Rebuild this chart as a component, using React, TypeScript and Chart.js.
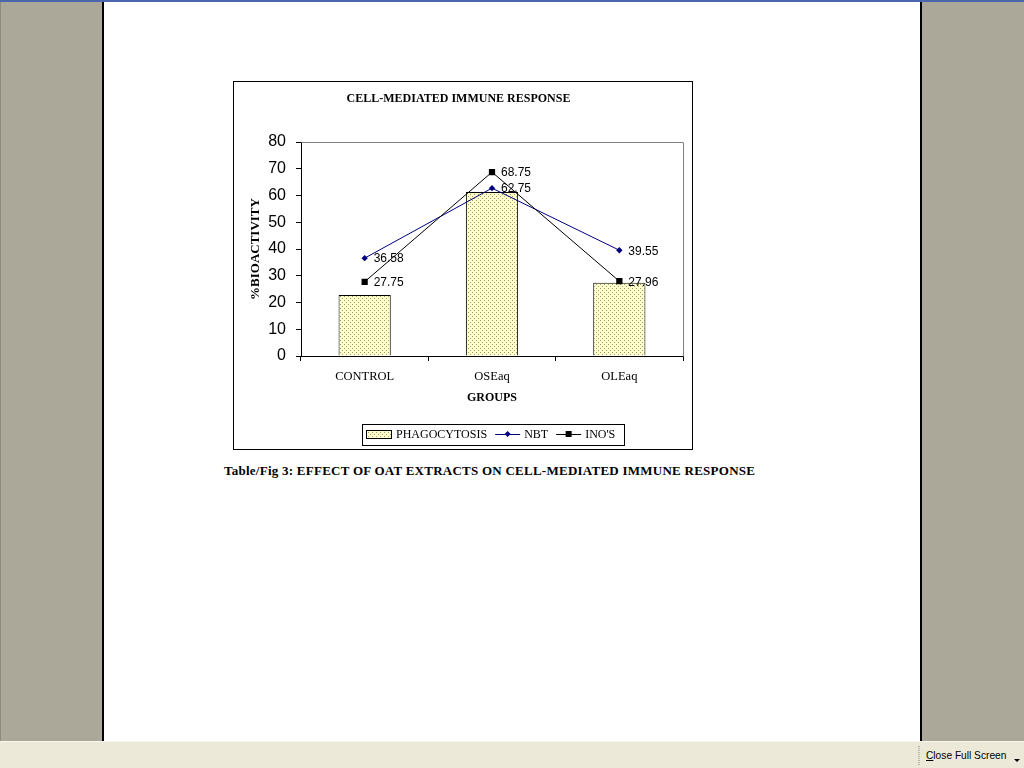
import React, { useEffect, useRef } from "react";
import { Chart, registerables } from "chart.js";

Chart.register(...registerables);

// ---- data ----
const categories = ["CONTROL", "OSEaq", "OLEaq"];
const seriesNames = ["PHAGOCYTOSIS", "NBT", "INO'S"];
const phagocytosis = [22.8, 61.3, 27.4];
const nbt = [36.58, 62.75, 39.55];
const inos = [27.75, 68.75, 27.96];
const yMin = 0;
const yMax = 80;
const yStep = 10;
const chartTitle = "CELL-MEDIATED IMMUNE RESPONSE";
const xTitle = "GROUPS";
const yTitle = "%BIOACTIVITY";
const caption = "Table/Fig 3: EFFECT OF OAT EXTRACTS ON CELL-MEDIATED IMMUNE RESPONSE";

const SERIF = "'Liberation Serif', 'Times New Roman', serif";
const SANS = "'Liberation Sans', Arial, sans-serif";

function makePattern(): CanvasPattern | string {
  const c = document.createElement("canvas");
  c.width = 4;
  c.height = 4;
  const g = c.getContext("2d");
  if (!g) return "#FFFFCC";
  g.fillStyle = "#FFFFCC";
  g.fillRect(0, 0, 4, 4);
  g.fillStyle = "#9c9c70";
  g.fillRect(0, 0, 1, 1);
  g.fillRect(2, 2, 1, 1);
  return g.createPattern(c, "repeat") || "#FFFFCC";
}

const plotFrame = {
  id: "plotFrame",
  beforeDatasetsDraw(chart: any) {
    const { ctx, chartArea } = chart;
    const { left, top, right, bottom } = chartArea;
    ctx.save();
    ctx.strokeStyle = "#808080";
    ctx.lineWidth = 1;
    ctx.beginPath();
    ctx.moveTo(Math.round(left) + 0.5, Math.round(top) + 0.5);
    ctx.lineTo(Math.round(right) + 0.5, Math.round(top) + 0.5);
    ctx.lineTo(Math.round(right) + 0.5, Math.round(bottom) + 0.5);
    ctx.stroke();
    ctx.restore();
  },
};

const pointLabels = {
  id: "pointLabels",
  afterDatasetsDraw(chart: any) {
    const { ctx } = chart;
    ctx.save();
    ctx.font = `12px ${SANS}`;
    ctx.fillStyle = "#000";
    ctx.textAlign = "left";
    ctx.textBaseline = "middle";
    chart.data.datasets.forEach((ds: any, di: number) => {
      if (ds.type !== "line") return;
      const meta = chart.getDatasetMeta(di);
      meta.data.forEach((pt: any, i: number) => {
        ctx.fillText(Number(ds.data[i]).toFixed(2), pt.x + 9, pt.y + 1);
      });
    });
    ctx.restore();
  },
};

const customLegend = {
  id: "customLegend",
  afterDraw(chart: any) {
    const { ctx } = chart;
    const ds = chart.data.datasets;
    const boxL = 128, boxT = 342, boxW = 262, boxH = 21;
    const cy = boxT + 10;
    ctx.save();
    ctx.fillStyle = "#fff";
    ctx.fillRect(boxL, boxT, boxW, boxH);
    ctx.strokeStyle = "#000";
    ctx.lineWidth = 1;
    ctx.strokeRect(boxL + 0.5, boxT + 0.5, boxW, boxH);
    ctx.font = `12px ${SERIF}`;
    ctx.textBaseline = "middle";
    ctx.textAlign = "left";
    let x = boxL + 4;
    // bar swatch
    ctx.fillStyle = ds[0].backgroundColor;
    ctx.fillRect(x, cy - 4, 26, 8);
    ctx.strokeStyle = "#000";
    ctx.strokeRect(x + 0.5, cy - 4 + 0.5, 25, 8);
    x += 30;
    ctx.fillStyle = "#000";
    ctx.fillText(ds[0].label, x, cy + 1);
    x += ctx.measureText(ds[0].label).width + 8;
    for (let k = 1; k < ds.length; k++) {
      const d = ds[k];
      ctx.strokeStyle = d.borderColor;
      ctx.beginPath();
      ctx.moveTo(x, cy + 0.5);
      ctx.lineTo(x + 25, cy + 0.5);
      ctx.stroke();
      ctx.fillStyle = d.pointBackgroundColor;
      const mx = x + 12.5;
      if (d.pointStyle === "rectRot") {
        ctx.beginPath();
        ctx.moveTo(mx, cy - 3);
        ctx.lineTo(mx + 3, cy);
        ctx.lineTo(mx, cy + 3);
        ctx.lineTo(mx - 3, cy);
        ctx.closePath();
        ctx.fill();
      } else {
        ctx.fillRect(mx - 3, cy - 3, 6, 6);
      }
      x += 29;
      ctx.fillStyle = "#000";
      ctx.fillText(d.label, x, cy + 1);
      x += ctx.measureText(d.label).width + 8;
    }
    ctx.restore();
  },
};

function ChartBox() {
  const ref = useRef<HTMLCanvasElement | null>(null);
  useEffect(() => {
    if (!ref.current) return;
    const pattern = makePattern();
    const chart = new Chart(ref.current, {
      type: "bar",
      data: {
        labels: categories,
        datasets: [
          {
            type: "bar",
            label: seriesNames[0],
            data: phagocytosis,
            backgroundColor: pattern as any,
            borderColor: "#000",
            borderWidth: 1,
            barPercentage: 0.41,
            categoryPercentage: 1,
            order: 3,
          } as any,
          {
            type: "line",
            label: seriesNames[1],
            data: nbt,
            borderColor: "#000080",
            borderWidth: 1,
            pointStyle: "rectRot",
            pointRadius: 3.2,
            pointBackgroundColor: "#000080",
            pointBorderColor: "#000080",
            pointBorderWidth: 0,
            tension: 0,
            order: 2,
          } as any,
          {
            type: "line",
            label: seriesNames[2],
            data: inos,
            borderColor: "#000000",
            borderWidth: 1,
            pointStyle: "rect",
            pointRadius: 4.4,
            pointBackgroundColor: "#000000",
            pointBorderColor: "#000000",
            pointBorderWidth: 0,
            tension: 0,
            order: 1,
          } as any,
        ],
      },
      options: {
        responsive: false,
        animation: false,
        devicePixelRatio: 1,
        layout: { padding: { top: 0, left: 0, right: 9, bottom: 0 } },
        plugins: {
          legend: { display: false },
          tooltip: { enabled: false },
          title: {
            display: true,
            text: chartTitle,
            color: "#000",
            font: { family: SERIF, size: 12, weight: "bold" },
            padding: { top: 10, bottom: 35.6 },
          },
        },
        scales: {
          x: {
            offset: true,
            grid: {
              offset: true,
              drawOnChartArea: false,
              drawTicks: true,
              tickLength: 5,
              color: "#000",
            },
            border: { display: true, color: "#000", width: 1 },
            ticks: {
              color: "#000",
              font: { family: SERIF, size: 12.5 },
              padding: 8,
              maxRotation: 0,
              autoSkip: false,
            },
            title: {
              display: true,
              text: xTitle,
              color: "#000",
              font: { family: SERIF, size: 12, weight: "bold" },
              padding: { top: 0, bottom: 44 },
            },
            afterFit: (s: any) => {
              s.height = 93;
            },
          },
          y: {
            min: yMin,
            max: yMax,
            grid: {
              drawOnChartArea: false,
              drawTicks: true,
              tickLength: 5,
              color: "#000",
            },
            border: { display: true, color: "#000", width: 1 },
            ticks: {
              stepSize: yStep,
              color: "#000",
              font: { family: SANS, size: 16 },
              padding: 10,
            },
            title: {
              display: true,
              text: yTitle,
              color: "#000",
              font: { family: SERIF, size: 13, weight: "bold" },
              padding: { top: 14, bottom: 0 },
            },
            afterFit: (s: any) => {
              s.width = 67;
            },
          },
        },
      } as any,
      plugins: [plotFrame, pointLabels, customLegend],
    });
    return () => chart.destroy();
  }, []);
  return (
    <canvas
      ref={ref}
      width={458}
      height={367}
      style={{ display: "block", width: 458, height: 367 }}
    />
  );
}

export default function App() {
  return (
    <div
      style={{
        position: "fixed",
        left: 0,
        top: 0,
        width: 1024,
        height: 768,
        background: "#ACA899",
        overflow: "hidden",
      }}
    >
      <div style={{ position: "absolute", left: 0, top: 0, width: 1024, height: 2, background: "#4A66AC" }} />
      <div style={{ position: "absolute", left: 0, top: 2, width: 1, height: 739, background: "#8f8c7e" }} />
      <div
        style={{
          position: "absolute",
          left: 102,
          top: 2,
          width: 820,
          height: 739,
          background: "#fff",
          borderLeft: "2px solid #000",
          borderRight: "2px solid #000",
          boxSizing: "border-box",
        }}
      />
      <div
        style={{
          position: "absolute",
          left: 233,
          top: 81,
          width: 460,
          height: 369,
          border: "1px solid #000",
          boxSizing: "border-box",
          background: "#fff",
        }}
      >
        <ChartBox />
      </div>
      <div
        style={{
          position: "absolute",
          left: 224,
          top: 463,
          fontFamily: SERIF,
          fontWeight: "bold",
          fontSize: 13,
          lineHeight: "16px",
          letterSpacing: "0.25px",
          color: "#000",
          whiteSpace: "nowrap",
        }}
      >
        {caption}
      </div>
      <div
        style={{
          position: "absolute",
          left: 0,
          top: 741,
          width: 1024,
          height: 27,
          background: "#ECE9D8",
          borderTop: "1px solid #f7f6f0",
          boxSizing: "border-box",
        }}
      >
        <div
          style={{
            position: "absolute",
            left: 918,
            top: 4,
            width: 2,
            height: 20,
            backgroundImage: "repeating-linear-gradient(to bottom, #b9b6a6 0 1px, transparent 1px 2px)",
          }}
        />
        <div
          style={{
            position: "absolute",
            left: 926,
            top: 7,
            fontFamily: SANS,
            fontSize: 10.2,
            lineHeight: "14px",
            color: "#000",
            whiteSpace: "nowrap",
          }}
        >
          <span style={{ textDecoration: "underline" }}>C</span>lose Full Screen
        </div>
        <div
          style={{
            position: "absolute",
            left: 1014,
            top: 17,
            width: 0,
            height: 0,
            borderLeft: "3px solid transparent",
            borderRight: "3px solid transparent",
            borderTop: "3px solid #000",
          }}
        />
      </div>
    </div>
  );
}
